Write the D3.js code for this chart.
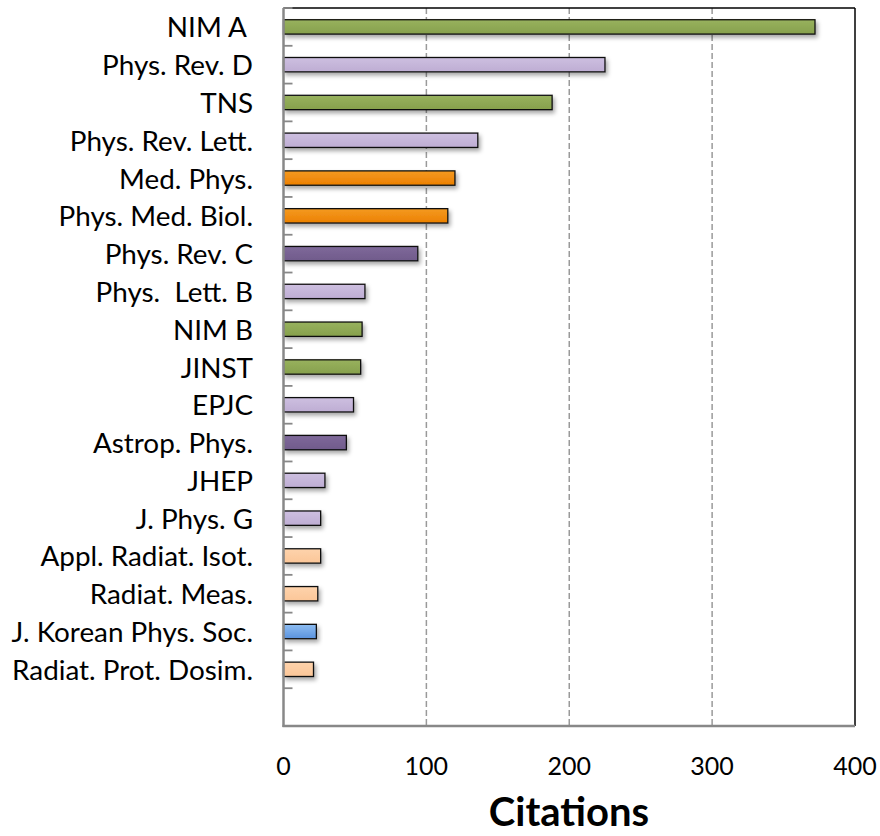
<!DOCTYPE html>
<html><head><meta charset="utf-8">
<script src="https://cdn.jsdelivr.net/npm/d3@7"></script>
<style>body{margin:0;background:#fff}</style>
</head><body>
<svg id="chart" width="880" height="836"></svg>
<script>
const categories = ["NIM A ", "Phys. Rev. D", "TNS", "Phys. Rev. Lett.", "Med. Phys.", "Phys. Med. Biol.", "Phys. Rev. C", "Phys.  Lett. B", "NIM B", "JINST", "EPJC", "Astrop. Phys.", "JHEP", "J. Phys. G", "Appl. Radiat. Isot.", "Radiat. Meas.", "J. Korean Phys. Soc.", "Radiat. Prot. Dosim."];
const citations = [372, 225, 188, 136, 120, 115, 94, 57, 55, 54, 49, 44, 29, 26, 26, 24, 23, 21];
const groups = ["instr", "hep", "instr", "hep", "med", "med", "nucl", "hep", "instr", "instr", "hep", "nucl", "hep", "hep", "rad", "rad", "korea", "rad"];
const xTicks = [0, 100, 200, 300, 400];
const axisTitle = "Citations";

const groupColors = {instr: ["#98B25E", "#86A04C"], hep: ["#CDBFE0", "#BEADD3"], med: ["#F49A22", "#EC8000"], nucl: ["#7F6A9A", "#705A8B"], rad: ["#FED3AC", "#FBC698"], korea: ["#8DBDF2", "#5A92DD"]};

const svg = d3.select("#chart");
const L = 283.5, R = 855, T = 8, B = 726;
const x = d3.scaleLinear().domain([0, 400]).range([L, R]);
const y = d3.scaleBand().domain(categories.concat([""])).range([T, B]).paddingInner(0.62).paddingOuter(0.31);
const step = y.step();

const defs = svg.append("defs");
const f = defs.append("filter").attr("id", "sh").attr("x", "-10%").attr("y", "-50%").attr("width", "130%").attr("height", "250%");
f.append("feDropShadow").attr("dx", 2).attr("dy", 3).attr("stdDeviation", 2.2).attr("flood-color", "#000").attr("flood-opacity", 0.35);
Object.entries(groupColors).forEach(([k, c]) => {
  const g = defs.append("linearGradient").attr("id", "g-" + k).attr("x1", 0).attr("x2", 0).attr("y1", 0).attr("y2", 1);
  g.append("stop").attr("offset", "0%").attr("stop-color", c[0]);
  g.append("stop").attr("offset", "100%").attr("stop-color", c[1]);
});

// gridlines
svg.append("g").selectAll("line").data(xTicks.filter(d => d > 0 && d < 400)).join("line")
  .attr("x1", d => x(d)).attr("x2", d => x(d)).attr("y1", T).attr("y2", B)
  .attr("stroke", "#9a9a9a").attr("stroke-width", 1.5).attr("stroke-dasharray", "6,3");

// frame: top and right black
svg.append("line").attr("x1", L).attr("x2", R).attr("y1", T).attr("y2", T).attr("stroke", "#000").attr("stroke-width", 1.5);
svg.append("line").attr("x1", R).attr("x2", R).attr("y1", T).attr("y2", B).attr("stroke", "#000").attr("stroke-width", 1.5);

// bars
svg.append("g").selectAll("rect").data(categories).join("rect")
  .attr("x", x(0)).attr("y", d => y(d))
  .attr("width", (d, i) => x(citations[i]) - x(0))
  .attr("height", y.bandwidth())
  .attr("fill", (d, i) => `url(#g-${groups[i]})`)
  .attr("stroke", "#111").attr("stroke-width", 1.3)
  .attr("filter", "url(#sh)");

// left axis (gray) with inward ticks at band boundaries
const yAxis = svg.append("g");
yAxis.append("line").attr("x1", L).attr("x2", L).attr("y1", T).attr("y2", B + 1).attr("stroke", "#888").attr("stroke-width", 2.5);
yAxis.selectAll("line.tk").data(d3.range(0, categories.length + 1)).join("line").attr("class", "tk")
  .attr("x1", L).attr("x2", L + 9).attr("y1", k => T + k * step).attr("y2", k => T + k * step)
  .attr("stroke", "#888").attr("stroke-width", 1.8);
// bottom axis (gray)
svg.append("line").attr("x1", L - 1).attr("x2", R).attr("y1", B).attr("y2", B).attr("stroke", "#888").attr("stroke-width", 2.5);

// category labels
const labels = svg.append("g").selectAll("text").data(categories).join("text")
  .attr("x", 253).attr("y", d => y(d) + y.bandwidth() / 2)
  .attr("text-anchor", "end").attr("dominant-baseline", "central")
  .attr("font-family", "Lato, 'Open Sans', sans-serif").attr("font-size", 22).attr("fill", "#000")
  .attr("xml:space", "preserve").style("white-space", "pre")
  .text(d => d);
let maxW = 0;
labels.each(function(d){ if (d === "Radiat. Prot. Dosim.") maxW = this.getComputedTextLength(); });
if (maxW > 0) labels.attr("font-size", 22 * 241 / maxW);

// x tick labels
svg.append("g").selectAll("text").data(xTicks).join("text")
  .attr("x", d => x(d)).attr("y", 765).attr("text-anchor", "middle").attr("dominant-baseline", "central")
  .attr("font-family", "Lato, 'Open Sans', sans-serif").attr("font-size", 25).attr("fill", "#000")
  .text(d => d);

svg.append("text").attr("x", 569).attr("y", 826).attr("text-anchor", "middle")
  .attr("font-family", "Lato, 'Open Sans', sans-serif").attr("font-weight", "bold").attr("font-size", 40).attr("fill", "#000")
  .text(axisTitle);
</script>
</body></html>
